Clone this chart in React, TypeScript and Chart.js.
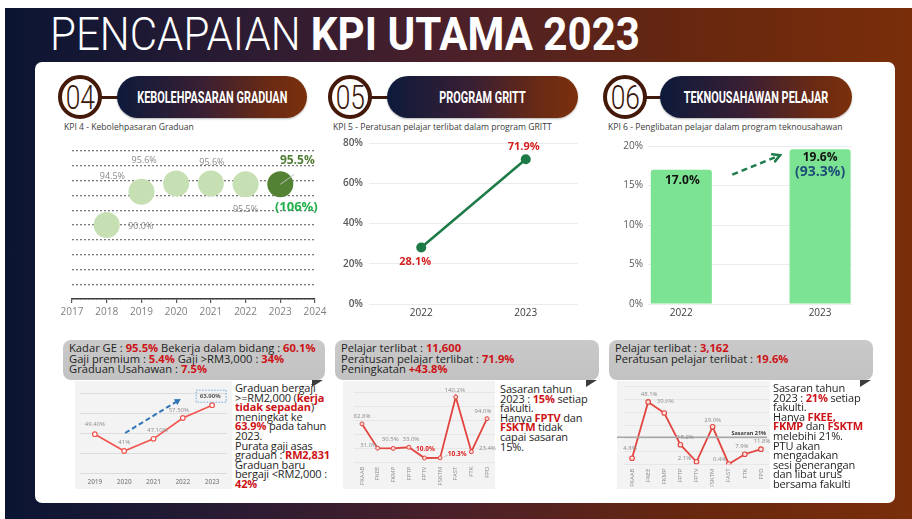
import React, { useEffect, useRef } from "react";
import { Chart, registerables } from "chart.js";
Chart.register(...registerables);

const FONT = '"Open Sans", "Noto Sans", sans-serif';
const HEAD_FONT = 'Roboto, "Open Sans", sans-serif';

// ---------------- data ----------------
const geYears = [2018, 2019, 2020, 2021, 2022, 2023];
const geValues = [90.0, 94.5, 95.6, 95.6, 95.5, 95.5];
const geAxisRange = [2017, 2024];
const geAchievement = "(106%)";

const grittYears = ["2022", "2023"];
const grittValues = [28.1, 71.9];

const teknoYears = ["2022", "2023"];
const teknoValues = [17.0, 19.6];
const teknoAchievement = "(93.3%)";

const salaryYears = ["2019", "2020", "2021", "2022", "2023"];
const salaryValues = [49.4, 41, 47.1, 57.5, 63.9];
const salaryLabels = ["49.40%", "41%", "47.10%", "57.50%", "63.90%"];

const faculties = ["FKAAB", "FKEE", "FKMP", "FPTP", "FPTV", "FSKTM", "FAST", "FTK", "FPD"];
const grittFacultyValues = [82.8, 31.0, 30.5, 33.0, 10.0, 10.3, 140.2, 23.4, 94.0];
const grittTarget = 15;
const teknoFacultyValues = [4.8, 48.1, 39.6, 15.2, 2.1, 29.0, 0.4, 7.9, 11.8];
const teknoTarget = 21;

// ---------------- helpers ----------------
const RED = "#cc1417";
const TXT = "#1e1e1e";

type Lbl = {
  i: number;
  text: string;
  dx: number;
  dy: number;
  color: string;
  size: number;
  weight?: string;
  align?: CanvasTextAlign;
};

function labelPlugin(labels: Lbl[], extra?: (chart: any) => void) {
  return {
    id: "customLabels",
    afterDatasetsDraw(chart: any) {
      const ctx = chart.ctx;
      ctx.save();
      if (extra) extra(chart);
      ctx.textBaseline = "middle";
      labels.forEach((l) => {
        const el = chart.getDatasetMeta(0).data[l.i];
        ctx.textAlign = l.align || "center";
        ctx.font = `${l.weight || "normal"} ${l.size}px ${FONT}`;
        ctx.fillStyle = l.color;
        ctx.fillText(l.text, el.x + l.dx, el.y + l.dy);
      });
      ctx.restore();
    },
  };
}

function arrow(
  ctx: CanvasRenderingContext2D,
  x1: number, y1: number, x2: number, y2: number,
  color: string, width: number, dash: number[], head: number, filled: boolean
) {
  ctx.save();
  ctx.strokeStyle = color;
  ctx.fillStyle = color;
  ctx.lineWidth = width;
  ctx.setLineDash(dash);
  const a = Math.atan2(y2 - y1, x2 - x1);
  const ex = filled ? x2 - head * 0.8 * Math.cos(a) : x2;
  const ey = filled ? y2 - head * 0.8 * Math.sin(a) : y2;
  ctx.beginPath();
  ctx.moveTo(x1, y1);
  ctx.lineTo(ex, ey);
  ctx.stroke();
  ctx.setLineDash([]);
  ctx.beginPath();
  ctx.moveTo(x2 - head * Math.cos(a - 0.5), y2 - head * Math.sin(a - 0.5));
  ctx.lineTo(x2, y2);
  ctx.lineTo(x2 - head * Math.cos(a + 0.5), y2 - head * Math.sin(a + 0.5));
  if (filled) {
    ctx.closePath();
    ctx.fill();
  } else {
    ctx.lineCap = "round";
    ctx.stroke();
  }
  ctx.restore();
}

const baseOptions = (pad: { left: number; right: number; top: number; bottom: number }) => ({
  responsive: false,
  maintainAspectRatio: false,
  animation: false,
  devicePixelRatio: 1,
  layout: { padding: pad },
  events: [],
  plugins: { legend: { display: false }, tooltip: { enabled: false } },
});

const fitX = (h: number) => (s: any) => {
  s.height = h;
  s.paddingLeft = 0;
  s.paddingRight = 0;
};
const fitY = (w: number) => (s: any) => {
  s.width = w;
  s.paddingTop = 0;
  s.paddingBottom = 0;
};

function ChartBox(props: { left: number; top: number; width: number; height: number; make: () => any }) {
  const ref = useRef<HTMLCanvasElement>(null);
  useEffect(() => {
    const chart = new Chart(ref.current as HTMLCanvasElement, props.make());
    return () => chart.destroy();
  }, []);
  return (
    <canvas
      ref={ref}
      width={props.width}
      height={props.height}
      style={{ position: "absolute", left: props.left, top: props.top, width: props.width, height: props.height }}
    />
  );
}

// ---------------- chart configs ----------------
const makeGE = () => {
  const last = geYears.length - 1;
  const grey = "#8a8a8a";
  return {
    type: "scatter",
    data: {
      datasets: [
        {
          data: geYears.map((x, i) => ({ x, y: geValues[i] })),
          pointRadius: 13,
          pointHoverRadius: 13,
          pointBorderWidth: 0,
          pointBackgroundColor: geYears.map((_, i) => (i === last ? "#548235" : "#c6e0b4")),
        },
      ],
    },
    options: {
      ...baseOptions({ left: 14, right: 14, top: 10, bottom: 3 }),
      scales: {
        x: {
          type: "linear",
          min: geAxisRange[0],
          max: geAxisRange[1],
          afterFit: fitX(22),
          ticks: {
            stepSize: 1,
            autoSkip: false,
            callback: (v: number) => String(v),
            color: "#7f7f7f",
            font: { family: FONT, size: 10 },
            padding: 3,
          },
          grid: { drawOnChartArea: false, color: "#595959", tickLength: 4, lineWidth: 1.2 },
          border: { color: "#404040", width: 1.5 },
        },
        y: {
          min: 80,
          max: 100,
          afterFit: fitY(0),
          ticks: { display: false, stepSize: 2 },
          grid: { color: "#7a7a7a", lineWidth: 1.3, drawTicks: false },
          border: { display: false, dash: [2, 2] },
        },
      },
    },
    plugins: [
      labelPlugin([
        { i: 0, text: geValues[0].toFixed(1) + "%", dx: 34, dy: 1, color: grey, size: 9 },
        { i: 1, text: geValues[1].toFixed(1) + "%", dx: -29, dy: -15, color: grey, size: 9 },
        { i: 2, text: geValues[2].toFixed(1) + "%", dx: -32, dy: -23, color: grey, size: 9 },
        { i: 3, text: geValues[3].toFixed(1) + "%", dx: 1, dy: -21, color: grey, size: 9 },
        { i: 4, text: geValues[4].toFixed(1) + "%", dx: 0, dy: 25, color: grey, size: 9 },
        { i: 5, text: geValues[5].toFixed(1) + "%", dx: 17, dy: -24, color: "#4f7d32", size: 12, weight: "bold" },
        { i: 5, text: geAchievement, dx: 16, dy: 23, color: "#22b04b", size: 13, weight: "bold" },
      ], (chart: any) => {
        const ctx = chart.ctx as CanvasRenderingContext2D;
        const p = chart.getDatasetMeta(0).data[last];
        ctx.strokeStyle = "#bfbfbf";
        ctx.lineWidth = 1;
        ctx.beginPath();
        ctx.moveTo(p.x, p.y);
        ctx.lineTo(p.x + 14, p.y - 10);
        ctx.stroke();
      }),
    ],
  };
};

const makeGRITT = () => ({
  type: "line",
  data: {
    labels: grittYears,
    datasets: [
      {
        data: grittValues,
        borderColor: "#1b7a46",
        backgroundColor: "#1b7a46",
        borderWidth: 2.5,
        pointRadius: 5,
        pointBackgroundColor: "#1b7a46",
        pointBorderWidth: 0,
        tension: 0,
      },
    ],
  },
  options: {
    ...baseOptions({ left: 0, right: 12, top: 8, bottom: 3 }),
    scales: {
      x: {
        offset: true,
        afterFit: fitX(18),
        ticks: { color: "#404040", font: { family: FONT, size: 10, weight: "500" }, padding: 3 },
        grid: { display: false, drawTicks: false },
        border: { display: false },
      },
      y: {
        min: 0,
        max: 80,
        afterFit: fitY(34),
        ticks: {
          stepSize: 20,
          callback: (v: number) => v + "%",
          color: "#595959",
          font: { family: FONT, size: 10, weight: "600" },
          padding: 6,
        },
        grid: { color: "#ececec", drawTicks: false },
        border: { display: false },
      },
    },
  },
  plugins: [
    labelPlugin([
      { i: 0, text: grittValues[0].toFixed(1) + "%", dx: -6, dy: 14, color: "#d41f1f", size: 11, weight: "bold" },
      { i: 1, text: grittValues[1].toFixed(1) + "%", dx: -2, dy: -12, color: "#d41f1f", size: 11, weight: "bold" },
    ]),
  ],
});

const makeTekno = () => ({
  type: "bar",
  data: {
    datasets: [
      {
        data: teknoValues.map((y, i) => ({ x: i, y })),
        backgroundColor: "#7be392",
        borderRadius: { topLeft: 3, topRight: 3 },
        borderSkipped: "bottom",
        categoryPercentage: 0.88,
        barPercentage: 0.5,
      },
    ],
  },
  options: {
    ...baseOptions({ left: 0, right: 13, top: 11, bottom: 3 }),
    scales: {
      x: {
        type: "linear",
        bounds: "data",
        offset: false,
        min: -0.24,
        max: 1.23,
        afterFit: fitX(18),
        afterBuildTicks: (s: any) => {
          s.ticks = teknoYears.map((_, i) => ({ value: i }));
        },
        afterDataLimits: (s: any) => {
          s.min = -0.24;
          s.max = 1.23;
        },
        ticks: {
          autoSkip: false,
          callback: (v: number) => teknoYears[v],
          color: "#404040",
          font: { family: FONT, size: 10, weight: "500" },
          padding: 3,
        },
        grid: { display: false, drawTicks: false },
        border: { display: false },
      },
      y: {
        min: 0,
        max: 20,
        afterFit: fitY(43),
        ticks: {
          stepSize: 5,
          callback: (v: number) => v + "%",
          color: "#595959",
          font: { family: FONT, size: 10, weight: "500" },
          padding: 5,
        },
        grid: { color: "#ececec", drawTicks: false },
        border: { display: false },
      },
    },
  },
  plugins: [
    labelPlugin(
      [
        { i: 0, text: teknoValues[0].toFixed(1) + "%", dx: 1, dy: 11, color: "#111", size: 12, weight: "bold" },
        { i: 1, text: teknoValues[1].toFixed(1) + "%", dx: 0, dy: 8, color: "#111", size: 12, weight: "bold" },
        { i: 1, text: teknoAchievement, dx: 0, dy: 23, color: "#1f4e79", size: 14, weight: "bold" },
      ],
      (chart: any) => {
        const d = chart.getDatasetMeta(0).data;
        arrow(chart.ctx, d[0].x + 51, d[0].y + 5, d[1].x - 40, d[1].y + 6, "#1e7b4b", 2.5, [6, 4], 8, false);
      }
    ),
  ],
});

const miniLabel = (i: number, text: string, dx: number, dy: number, red = false): Lbl => ({
  i,
  text,
  dx,
  dy,
  color: red ? "#e02424" : "#8c8c8c",
  size: red ? 6.5 : 6,
  weight: red ? "bold" : "normal",
});

const miniXTicks = (rotate: boolean) => ({
  autoSkip: false,
  color: "#8c8c8c",
  font: { family: FONT, size: rotate ? 6 : 6.5, weight: rotate ? "normal" : "600" },
  padding: rotate ? 4 : 5,
  minRotation: rotate ? 90 : 0,
  maxRotation: rotate ? 90 : 0,
});

const makeSalary = () => ({
  type: "line",
  data: {
    labels: salaryYears,
    datasets: [
      {
        data: salaryValues,
        borderColor: "#f2554f",
        borderWidth: 1.6,
        pointRadius: 2.3,
        pointBorderWidth: 1.2,
        pointBackgroundColor: "#ffffff",
        pointBorderColor: "#f2554f",
        tension: 0,
      },
    ],
  },
  options: {
    ...baseOptions({ left: 1.75, right: 2.75, top: 11, bottom: 2 }),
    scales: {
      x: {
        offset: true,
        afterFit: fitX(14),
        ticks: miniXTicks(false),
        grid: { display: false, drawTicks: false },
        border: { display: false },
      },
      y: {
        min: 30,
        max: 70,
        afterFit: fitY(0),
        ticks: { display: false, stepSize: 10 },
        grid: { color: "#dcdcdc", drawTicks: false },
        border: { display: false },
      },
    },
  },
  plugins: [
    labelPlugin(
      [
        miniLabel(0, salaryLabels[0], 0, -10),
        miniLabel(1, salaryLabels[1], 0, -9),
        miniLabel(2, salaryLabels[2], 4, -9),
        miniLabel(3, salaryLabels[3], -4, -8),
        { i: 4, text: salaryLabels[4], dx: -2, dy: -9, color: "#595959", size: 6, weight: "bold" },
      ],
      (chart: any) => {
        const ctx = chart.ctx as CanvasRenderingContext2D;
        const d = chart.getDatasetMeta(0).data;
        arrow(ctx, d[1].x + 1, d[1].y - 18, d[3].x - 2, d[3].y - 19, "#2e75b6", 2, [5, 3], 7, true);
        ctx.save();
        ctx.strokeStyle = "#6fa8dc";
        ctx.lineWidth = 1;
        ctx.setLineDash([1.5, 1.5]);
        ctx.strokeRect(d[4].x - 16, d[4].y - 15, 30, 12);
        ctx.restore();
      }
    ),
  ],
});

const makeGrittFaculty = () => ({
  type: "line",
  data: {
    labels: faculties,
    datasets: [
      {
        data: grittFacultyValues,
        borderColor: "#e2453f",
        borderWidth: 1.8,
        pointRadius: 2,
        pointBorderWidth: 1,
        pointBackgroundColor: "#f8d4d2",
        pointBorderColor: "#e2453f",
        tension: 0,
      },
    ],
  },
  options: {
    ...baseOptions({ left: 11.2, right: 5.2, top: 11.4, bottom: 1.3 }),
    scales: {
      x: {
        offset: true,
        afterFit: fitX(24),
        ticks: miniXTicks(true),
        grid: { display: false, drawTicks: false },
        border: { display: false },
      },
      y: {
        min: 0,
        max: 150,
        afterFit: fitY(0),
        ticks: { display: false, stepSize: 30 },
        grid: { color: "#e6e6e6", drawTicks: false },
        border: { display: false },
      },
    },
  },
  plugins: [
    labelPlugin(
      [
        miniLabel(0, grittFacultyValues[0].toFixed(1) + "%", 0, -8),
        miniLabel(1, grittFacultyValues[1].toFixed(1) + "%", -9, -3),
        miniLabel(2, grittFacultyValues[2].toFixed(1) + "%", -3, -9),
        miniLabel(3, grittFacultyValues[3].toFixed(1) + "%", 2, -8),
        miniLabel(4, grittFacultyValues[4].toFixed(1) + "%", 1, -9, grittFacultyValues[4] < grittTarget),
        miniLabel(5, grittFacultyValues[5].toFixed(1) + "%", 17, -4, grittFacultyValues[5] < grittTarget),
        miniLabel(6, grittFacultyValues[6].toFixed(1) + "%", -1, -7),
        miniLabel(7, grittFacultyValues[7].toFixed(1) + "%", 16, -3),
        miniLabel(8, grittFacultyValues[8].toFixed(1) + "%", -4, -7),
      ],
      (chart: any) => {
        const ctx = chart.ctx as CanvasRenderingContext2D;
        const p = chart.getDatasetMeta(0).data[5];
        ctx.strokeStyle = "#bfbfbf";
        ctx.lineWidth = 0.8;
        ctx.beginPath();
        ctx.moveTo(p.x + 4, p.y - 1);
        ctx.lineTo(p.x + 8, p.y - 3);
        ctx.stroke();
      }
    ),
  ],
});

const makeTeknoFaculty = () => ({
  type: "line",
  data: {
    labels: faculties,
    datasets: [
      {
        data: teknoFacultyValues,
        borderColor: "#e2453f",
        borderWidth: 1.8,
        pointRadius: 2.3,
        pointBorderWidth: 1.1,
        pointBackgroundColor: "#fbe2e1",
        pointBorderColor: "#e2453f",
        tension: 0,
      },
    ],
  },
  options: {
    ...baseOptions({ left: 12, right: 8, top: 5.5, bottom: 1.5 }),
    scales: {
      x: {
        offset: true,
        afterFit: fitX(22),
        ticks: miniXTicks(true),
        grid: { display: false, drawTicks: false },
        border: { display: false },
      },
      y: {
        min: 0,
        max: 60,
        afterFit: fitY(0),
        ticks: { display: false, stepSize: 10 },
        grid: { color: "#e6e6e6", drawTicks: false },
        border: { display: false },
      },
    },
  },
  plugins: [
    labelPlugin(
      [
        miniLabel(0, teknoFacultyValues[0].toFixed(1) + "%", -2, -10),
        miniLabel(1, teknoFacultyValues[1].toFixed(1) + "%", 1, -8),
        miniLabel(2, teknoFacultyValues[2].toFixed(1) + "%", 1, -12),
        miniLabel(3, teknoFacultyValues[3].toFixed(1) + "%", 5, -7),
        miniLabel(4, teknoFacultyValues[4].toFixed(1) + "%", -12, -3),
        miniLabel(5, teknoFacultyValues[5].toFixed(1) + "%", 0, -7),
        miniLabel(6, teknoFacultyValues[6].toFixed(1) + "%", -9, -5),
        miniLabel(7, teknoFacultyValues[7].toFixed(1) + "%", -3, -8),
        miniLabel(8, teknoFacultyValues[8].toFixed(1) + "%", 1, -8),
      ],
      (chart: any) => {
        const ctx = chart.ctx as CanvasRenderingContext2D;
        const area = chart.chartArea;
        const y = chart.scales.y.getPixelForValue(teknoTarget);
        ctx.strokeStyle = "#a6a6a6";
        ctx.lineWidth = 1.4;
        ctx.beginPath();
        ctx.moveTo(area.left - 7, y);
        ctx.lineTo(area.right - 2, y);
        ctx.stroke();
        ctx.fillStyle = "#3a3a3a";
        ctx.font = `bold 5.5px ${FONT}`;
        ctx.textAlign = "right";
        ctx.textBaseline = "middle";
        ctx.fillText(`Sasaran ${teknoTarget}%`, area.right - 3, y - 4);
      }
    ),
  ],
});

// ---------------- layout pieces ----------------
function Header(props: { cx: number; pillLeft: number; pillRight: number; num: string; title: string }) {
  const cy = 97;
  const r = 22;
  return (
    <>
      <div
        style={{
          position: "absolute",
          left: props.cx + r - 4,
          top: cy - 1.5,
          width: props.pillLeft - props.cx - r + 8,
          height: 3,
          background: "#3f1a0c",
        }}
      />
      <div
        style={{
          position: "absolute",
          left: props.pillLeft,
          top: 76,
          width: props.pillRight - props.pillLeft,
          height: 42,
          borderRadius: 21,
          background: "linear-gradient(90deg, #0d1a3b 0%, #3a1f33 45%, #6a2a14 80%, #7b300c 100%)",
          boxShadow: "0 1px 2px rgba(0,0,0,0.3)",
          display: "flex",
          alignItems: "center",
          justifyContent: "center",
          overflow: "hidden",
        }}
      >
        <span
          style={{
            color: "#ffffff",
            fontFamily: HEAD_FONT,
            fontWeight: 700,
            fontSize: 17,
            whiteSpace: "nowrap",
            display: "inline-block",
            transform: "scaleX(0.64)",
            letterSpacing: 0,
          }}
        >
          {props.title}
        </span>
      </div>
      <div
        style={{
          position: "absolute",
          left: props.cx - r,
          top: cy - r,
          width: r * 2,
          height: r * 2,
          boxSizing: "border-box",
          borderRadius: "50%",
          border: "4px solid #45190a",
          background: "#ffffff",
          display: "flex",
          alignItems: "center",
          justifyContent: "center",
        }}
      >
        <span
          style={{
            fontFamily: HEAD_FONT,
            fontWeight: 300,
            fontSize: 33,
            color: "#3a1608",
            display: "inline-block",
            transform: "scaleX(0.8)",
            lineHeight: "31px",
            marginTop: 1,
          }}
        >
          {props.num}
        </span>
      </div>
    </>
  );
}

function Subtitle(props: { left: number; text: string }) {
  return (
    <div
      style={{
        position: "absolute",
        left: props.left,
        top: 121,
        fontFamily: FONT,
        fontSize: 8.6,
        color: "#3a3a3a",
        whiteSpace: "nowrap",
        lineHeight: "12px",
      }}
    >
      {props.text}
    </div>
  );
}

function Callout(props: { left: number; width: number; children: React.ReactNode }) {
  return (
    <>
      <div
        style={{
          position: "absolute",
          left: props.left,
          top: 340,
          width: props.width,
          height: 40,
          borderRadius: 8,
          background: "linear-gradient(180deg, #c9c9c9 0%, #c2c2c2 100%)",
          boxSizing: "border-box",
          padding: "3px 6px",
          fontFamily: FONT,
          fontSize: 11.2,
          lineHeight: "10.5px",
          color: TXT,
          whiteSpace: "nowrap",
        }}
      >
        {props.children}
      </div>
      <div
        style={{
          position: "absolute",
          left: props.left + props.width - 13,
          top: 380,
          width: 0,
          height: 0,
          borderTop: "7px solid #3c3c3c",
          borderRight: "11px solid transparent",
        }}
      />
    </>
  );
}

function SideText(props: { left: number; top: number; children: React.ReactNode }) {
  return (
    <div
      style={{
        position: "absolute",
        left: props.left,
        top: props.top,
        fontFamily: FONT,
        fontSize: 11,
        lineHeight: "9.6px",
        color: TXT,
        whiteSpace: "nowrap",
        letterSpacing: -0.15,
      }}
    >
      {props.children}
    </div>
  );
}

const R = (p: { children: React.ReactNode }) => <b style={{ color: RED }}>{p.children}</b>;

function MiniBg(props: { left: number; width: number }) {
  return (
    <div
      style={{
        position: "absolute",
        left: props.left,
        top: 381,
        width: props.width,
        height: 108,
        background: "#f3f3f3",
      }}
    />
  );
}

export default function App() {
  return (
    <div
      style={{
        position: "absolute",
        left: 0,
        top: 0,
        width: 912,
        height: 519,
        overflow: "hidden",
        background: "#ffffff",
      }}
    >
      <div
        style={{
          position: "absolute",
          left: 5,
          top: 8,
          width: 907,
          height: 511,
          background: "linear-gradient(90deg, #0a1533 0%, #2a1b33 25%, #4c2029 50%, #67270f 75%, #7a2e0a 100%)",
        }}
      />
      <div
        style={{
          position: "absolute",
          left: 50,
          top: 6,
          fontFamily: HEAD_FONT,
          fontSize: 46,
          lineHeight: "56px",
          color: "#ffffff",
          whiteSpace: "nowrap",
          transform: "scaleX(0.915)",
          transformOrigin: "left center",
        }}
      >
        <span style={{ fontWeight: 300 }}>PENCAPAIAN </span>
        <span style={{ fontWeight: 700 }}>KPI UTAMA 2023</span>
      </div>
      <div
        style={{
          position: "absolute",
          left: 35,
          top: 62,
          width: 860,
          height: 441,
          borderRadius: 7,
          background: "#ffffff",
        }}
      />

      <Header cx={80} pillLeft={117} pillRight={307} num="04" title="KEBOLEHPASARAN GRADUAN" />
      <Header cx={350} pillLeft={387} pillRight={578} num="05" title="PROGRAM GRITT" />
      <Header cx={625} pillLeft={660} pillRight={852} num="06" title="TEKNOUSAHAWAN PELAJAR" />

      <Subtitle left={64} text="KPI 4 - Kebolehpasaran Graduan" />
      <Subtitle left={333} text="KPI 5 - Peratusan pelajar terlibat dalam program GRITT" />
      <Subtitle left={608} text="KPI 6 - Penglibatan pelajar dalam program teknousahawan" />

      <ChartBox left={58} top={138} width={271} height={186} make={makeGE} />
      <ChartBox left={335} top={135} width={255} height={190} make={makeGRITT} />
      <ChartBox left={605} top={135} width={260} height={190} make={makeTekno} />

      <Callout left={63} width={262}>
        <div>Kadar GE : <R>95.5%</R> Bekerja dalam bidang : <R>60.1%</R></div>
        <div>Gaji premium : <R>5.4%</R> Gaji &gt;RM3,000 : <R>34%</R></div>
        <div>Graduan Usahawan : <R>7.5%</R></div>
      </Callout>
      <Callout left={335} width={264}>
        <div>Pelajar terlibat : <R>11,600</R></div>
        <div>Peratusan pelajar terlibat : <R>71.9%</R></div>
        <div>Peningkatan <R>+43.8%</R></div>
      </Callout>
      <Callout left={609} width={264}>
        <div>Pelajar terlibat : <R>3,162</R></div>
        <div>Peratusan pelajar terlibat : <R>19.6%</R></div>
      </Callout>

      <MiniBg left={75} width={157} />
      <MiniBg left={343} width={152} />
      <MiniBg left={617} width={153} />

      <ChartBox left={75} top={382} width={157} height={107} make={makeSalary} />
      <ChartBox left={343} top={381} width={157} height={107} make={makeGrittFaculty} />
      <ChartBox left={612} top={381} width={165} height={107} make={makeTeknoFaculty} />

      <SideText left={235} top={383}>
        <div>Graduan bergaji</div>
        <div>&gt;=RM2,000 (<R>kerja</R></div>
        <div><R>tidak sepadan</R>)</div>
        <div>meningkat ke</div>
        <div><R>63.9%</R> pada tahun</div>
        <div>2023.</div>
        <div>Purata gaji asas</div>
        <div>graduan : <R>RM2,831</R></div>
        <div>Graduan baru</div>
        <div>bergaji &lt;RM2,000 :</div>
        <div><R>42%</R></div>
      </SideText>
      <SideText left={500} top={384}>
        <div>Sasaran tahun</div>
        <div>2023 : <R>15%</R> setiap</div>
        <div>fakulti.</div>
        <div>Hanya <R>FPTV</R> dan</div>
        <div><R>FSKTM</R> tidak</div>
        <div>capai sasaran</div>
        <div>15%.</div>
      </SideText>
      <SideText left={773} top={383}>
        <div>Sasaran tahun</div>
        <div>2023 : <R>21%</R> setiap</div>
        <div>fakulti.</div>
        <div>Hanya <R>FKEE,</R></div>
        <div><R>FKMP</R> dan <R>FSKTM</R></div>
        <div>melebihi 21%.</div>
        <div>PTU akan</div>
        <div>mengadakan</div>
        <div>sesi penerangan</div>
        <div>dan libat urus</div>
        <div>bersama fakulti</div>
      </SideText>
    </div>
  );
}
